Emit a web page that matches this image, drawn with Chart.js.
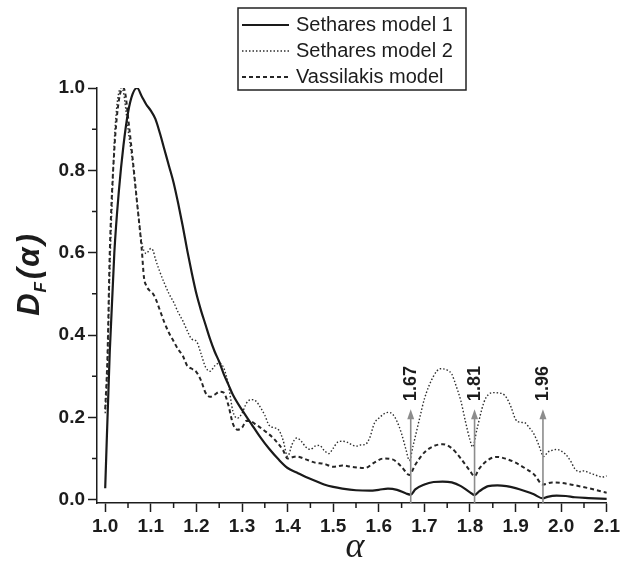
<!DOCTYPE html>
<html>
<head>
<meta charset="utf-8">
<script src="https://cdn.jsdelivr.net/npm/chart.js@4/dist/chart.umd.min.js"></script>
<style>
  html, body { margin: 0; padding: 0; background: #fff; }
  #wrap { width: 623px; height: 567px; }
</style>
</head>
<body>
<div id="wrap"><canvas id="dissonanceChart" width="623" height="567"></canvas></div>
<script>
// tick labels
const xTicks = [1.0, 1.1, 1.2, 1.3, 1.4, 1.5, 1.6, 1.7, 1.8, 1.9, 2.0, 2.1];
const yTicks = [0.0, 0.2, 0.4, 0.6, 0.8, 1.0];

const seriesNames = ["Sethares model 1", "Sethares model 2", "Vassilakis model"];

// Sethares model 1 (solid)
const model1X = [1.0, 1.01, 1.02, 1.03, 1.04, 1.05, 1.06, 1.07, 1.08, 1.09, 1.1, 1.11, 1.12, 1.13, 1.14, 1.15, 1.16, 1.17, 1.18, 1.19, 1.2,
  1.21, 1.22, 1.23, 1.24, 1.25, 1.26, 1.27, 1.28, 1.3, 1.32, 1.34, 1.36, 1.38, 1.4, 1.42, 1.44, 1.46, 1.48, 1.5, 1.52, 1.55, 1.58, 1.6,
  1.62, 1.64, 1.66, 1.67, 1.68, 1.7, 1.72, 1.74, 1.76, 1.78, 1.8, 1.81, 1.82, 1.84, 1.86, 1.88, 1.9, 1.92, 1.94, 1.96, 1.97, 1.99,
  2.01, 2.03, 2.06, 2.1];
const model1Y = [0.028, 0.36, 0.6, 0.75, 0.86, 0.94, 0.985, 1.0, 0.98, 0.96, 0.945, 0.925, 0.89, 0.85, 0.81, 0.77, 0.72, 0.665, 0.605, 0.55, 0.5,
  0.46, 0.425, 0.39, 0.36, 0.335, 0.305, 0.28, 0.255, 0.218, 0.185, 0.152, 0.123, 0.098, 0.077, 0.066, 0.055, 0.046, 0.037, 0.031, 0.027, 0.023, 0.022, 0.024,
  0.027, 0.024, 0.015, 0.012, 0.025, 0.037, 0.043, 0.044, 0.042, 0.033, 0.018, 0.011, 0.02, 0.033, 0.035, 0.033, 0.028, 0.021, 0.013, 0.003, 0.007, 0.01,
  0.009, 0.006, 0.004, 0.002];

// Sethares model 2 (dotted)
const model2X = [1.0, 1.005, 1.01, 1.015, 1.02, 1.025, 1.03, 1.035, 1.04, 1.045, 1.05, 1.055, 1.06, 1.065, 1.07, 1.075, 1.08, 1.09, 1.1, 1.105,
  1.11, 1.12, 1.13, 1.14, 1.15, 1.16, 1.17, 1.18, 1.19, 1.2, 1.21, 1.22, 1.23, 1.24, 1.25, 1.26, 1.27, 1.28, 1.29, 1.3, 1.31, 1.32, 1.33,
  1.34, 1.35, 1.36, 1.38, 1.39, 1.4, 1.41, 1.42, 1.43, 1.44, 1.45, 1.46, 1.47, 1.48, 1.49, 1.5, 1.51, 1.52, 1.53, 1.54, 1.55, 1.56, 1.57,
  1.58, 1.59, 1.6, 1.62, 1.63, 1.64, 1.65, 1.66, 1.667, 1.675, 1.69, 1.7, 1.72, 1.735, 1.75, 1.76, 1.77, 1.78, 1.79, 1.8, 1.806, 1.815,
  1.83, 1.84, 1.85, 1.87, 1.88, 1.89, 1.9, 1.91, 1.92, 1.93, 1.94, 1.95, 1.962, 1.97, 1.98, 1.99, 2.0, 2.01, 2.02, 2.03, 2.04, 2.05,
  2.06, 2.07, 2.08, 2.09, 2.1];
const model2Y = [0.21, 0.32, 0.55, 0.72, 0.87, 0.95, 0.99, 1.0, 0.99, 0.95, 0.9, 0.86, 0.82, 0.77, 0.72, 0.67, 0.625, 0.598, 0.61, 0.605,
  0.585, 0.553, 0.525, 0.5, 0.48, 0.455, 0.435, 0.41, 0.39, 0.385, 0.355, 0.322, 0.312, 0.325, 0.332, 0.32, 0.28, 0.215, 0.198, 0.21, 0.235, 0.243, 0.24,
  0.225, 0.205, 0.18, 0.17, 0.145, 0.105, 0.135, 0.15, 0.142, 0.128, 0.122, 0.13, 0.132, 0.12, 0.112, 0.125, 0.14, 0.142, 0.14, 0.134, 0.13, 0.133, 0.134,
  0.15, 0.185, 0.198, 0.212, 0.208, 0.19, 0.16, 0.12, 0.095, 0.13, 0.2, 0.245, 0.3, 0.318, 0.315, 0.305, 0.275, 0.24, 0.19, 0.145, 0.128, 0.17,
  0.235, 0.255, 0.26, 0.258, 0.248, 0.225, 0.195, 0.188, 0.187, 0.175, 0.16, 0.135, 0.105, 0.115, 0.12, 0.122, 0.118, 0.11, 0.095, 0.075, 0.068, 0.07,
  0.066, 0.062, 0.058, 0.055, 0.058];

// Vassilakis model (dashed)
const model3X = [1.0, 1.005, 1.01, 1.02, 1.03, 1.04, 1.045, 1.05, 1.06, 1.07, 1.08, 1.085, 1.09, 1.1, 1.105, 1.11, 1.12, 1.13, 1.14, 1.15,
  1.16, 1.17, 1.18, 1.19, 1.2, 1.21, 1.22, 1.23, 1.24, 1.25, 1.26, 1.27, 1.28, 1.29, 1.3, 1.31, 1.32, 1.33, 1.35, 1.37, 1.39, 1.4, 1.41,
  1.42, 1.44, 1.46, 1.48, 1.5, 1.52, 1.54, 1.57, 1.59, 1.61, 1.63, 1.65, 1.667, 1.68, 1.7, 1.72, 1.74, 1.76, 1.78, 1.8, 1.81, 1.82, 1.84,
  1.86, 1.88, 1.9, 1.92, 1.94, 1.96, 1.98, 2.0, 2.03, 2.06, 2.1];
const model3Y = [0.22, 0.35, 0.6, 0.85, 0.97, 1.0, 0.98, 0.93, 0.83, 0.72, 0.61, 0.54, 0.52, 0.505, 0.5, 0.49, 0.46, 0.43, 0.405, 0.385,
  0.365, 0.35, 0.325, 0.318, 0.31, 0.29, 0.26, 0.25, 0.255, 0.262, 0.26, 0.23, 0.185, 0.17, 0.175, 0.192, 0.19, 0.183, 0.167, 0.148, 0.12, 0.1, 0.103,
  0.105, 0.098, 0.09, 0.087, 0.08, 0.083, 0.08, 0.077, 0.09, 0.1, 0.098, 0.08, 0.06, 0.085, 0.115, 0.13, 0.135, 0.125, 0.1, 0.07, 0.057, 0.075, 0.097,
  0.104, 0.099, 0.09, 0.077, 0.062, 0.037, 0.042, 0.041, 0.035, 0.028, 0.017];

// marked ratios (arrows)
const markerX = [1.67, 1.81, 1.96];
const markerLabels = ["1.67", "1.81", "1.96"];
const markerTop = 0.22;

const toPoints = (xs, ys) => xs.map((x, i) => ({ x: x, y: ys[i] }));

const tickFont = { family: "Liberation Sans, Arial, sans-serif", weight: "bold", size: 19 };
const ink = "#1c1c1c";

const minorTicks = {
  id: "minorTicks",
  afterDraw(chart) {
    const ctx = chart.ctx;
    const xs = chart.scales.x, ys = chart.scales.y;
    ctx.save();
    ctx.strokeStyle = ink;
    ctx.lineWidth = 1.5;
    ctx.beginPath();
    for (let i = 0; i < xTicks.length - 1; i++) {
      const px = xs.getPixelForValue((xTicks[i] + xTicks[i + 1]) / 2);
      ctx.moveTo(px, xs.top);
      ctx.lineTo(px, xs.top + 5);
    }
    for (let i = 0; i < yTicks.length - 1; i++) {
      const py = ys.getPixelForValue((yTicks[i] + yTicks[i + 1]) / 2);
      ctx.moveTo(ys.right, py);
      ctx.lineTo(ys.right - 5, py);
    }
    ctx.stroke();
    ctx.restore();
  }
};

const arrows = {
  id: "arrows",
  afterDatasetsDraw(chart) {
    const ctx = chart.ctx;
    const xs = chart.scales.x, ys = chart.scales.y;
    ctx.save();
    markerX.forEach((v, i) => {
      const px = xs.getPixelForValue(v);
      const bottom = chart.chartArea.bottom;
      const tip = ys.getPixelForValue(markerTop);
      ctx.strokeStyle = "#8c8c8c";
      ctx.fillStyle = "#8c8c8c";
      ctx.lineWidth = 1.6;
      ctx.beginPath();
      ctx.moveTo(px, bottom);
      ctx.lineTo(px, tip + 8);
      ctx.stroke();
      ctx.beginPath();
      ctx.moveTo(px, tip);
      ctx.lineTo(px - 3.5, tip + 10);
      ctx.lineTo(px + 3.5, tip + 10);
      ctx.closePath();
      ctx.fill();
      ctx.save();
      ctx.translate(px, tip - 8);
      ctx.rotate(-Math.PI / 2);
      ctx.fillStyle = ink;
      ctx.font = "bold 18px 'Liberation Sans', Arial, sans-serif";
      ctx.textAlign = "left";
      ctx.textBaseline = "middle";
      ctx.fillText(markerLabels[i], 0, 0);
      ctx.restore();
    });
    ctx.restore();
  }
};

const titles = {
  id: "titles",
  afterDraw(chart) {
    const ctx = chart.ctx;
    const area = chart.chartArea;
    ctx.save();
    ctx.fillStyle = ink;
    // x title
    ctx.font = "italic 36px 'Liberation Serif', 'DejaVu Serif', serif";
    ctx.textAlign = "center";
    ctx.textBaseline = "alphabetic";
    ctx.fillText("\u03b1", (area.left + area.right) / 2 + 3, 557);
    // y title: D_F(α)
    ctx.translate(30, 275);
    ctx.rotate(-Math.PI / 2);
    const big = "bold italic 31px 'Liberation Sans', Arial, sans-serif";
    const small = "bold italic 17px 'Liberation Sans', Arial, sans-serif";
    const parts = [
      { t: "D", f: big, dy: 0, gap: 0 },
      { t: "F", f: small, dy: 7, gap: 1 },
      { t: "(", f: big, dy: 0, gap: 3 },
      { t: "\u03b1", f: big, dy: 0, gap: 2 },
      { t: ")", f: big, dy: 0, gap: 3 }
    ];
    let total = 0;
    parts.forEach(p => { ctx.font = p.f; p.w = ctx.measureText(p.t).width; total += p.w + p.gap; });
    let cx = -total / 2;
    ctx.textAlign = "left";
    ctx.textBaseline = "middle";
    parts.forEach(p => {
      cx += p.gap;
      ctx.font = p.f;
      ctx.fillText(p.t, cx, p.dy + (p.f === small ? 4 : 0));
      cx += p.w;
    });
    ctx.restore();
  }
};

const boxLegend = {
  id: "boxLegend",
  afterDraw(chart) {
    const ctx = chart.ctx;
    const left = 238, top = 8, width = 228, height = 82;
    ctx.save();
    ctx.strokeStyle = "#222";
    ctx.lineWidth = 1.5;
    ctx.strokeRect(left, top, width, height);
    ctx.font = "20px 'Liberation Sans', Arial, sans-serif";
    ctx.textBaseline = "middle";
    ctx.textAlign = "left";
    chart.data.datasets.forEach((ds, i) => {
      const y = top + 17 + i * 26;
      ctx.save();
      ctx.strokeStyle = ds.borderColor;
      ctx.lineWidth = ds.borderWidth;
      ctx.setLineDash(ds.borderDash || []);
      ctx.beginPath();
      ctx.moveTo(left + 4, y);
      ctx.lineTo(left + 51, y);
      ctx.stroke();
      ctx.restore();
      ctx.fillStyle = ink;
      ctx.fillText(ds.label, left + 58, y);
    });
    ctx.restore();
  }
};

const whiteBg = {
  id: "whiteBg",
  beforeDraw(chart) {
    const ctx = chart.ctx;
    ctx.save();
    ctx.fillStyle = "#fff";
    ctx.fillRect(0, 0, chart.width, chart.height);
    ctx.restore();
  }
};

const ctx = document.getElementById("dissonanceChart").getContext("2d");

new Chart(ctx, {
  type: "line",
  data: {
    datasets: [
      {
        label: seriesNames[0],
        data: toPoints(model1X, model1Y),
        borderColor: "#1a1a1a",
        borderWidth: 2.2,
        borderDash: [],
      },
      {
        label: seriesNames[1],
        data: toPoints(model2X, model2Y),
        borderColor: "#2e2e2e",
        borderWidth: 1.4,
        borderDash: [1.5, 2],
      },
      {
        label: seriesNames[2],
        data: toPoints(model3X, model3Y),
        borderColor: "#262626",
        borderWidth: 2,
        borderDash: [4, 3],
      },
    ],
  },
  options: {
    responsive: false,
    animation: false,
    devicePixelRatio: 1,
    layout: { padding: { top: 88, right: 12, left: 0, bottom: 0 } },
    elements: {
      point: { radius: 0, hoverRadius: 0 },
      line: { fill: false, cubicInterpolationMode: "monotone" },
    },
    plugins: {
      legend: { display: false },
      tooltip: { enabled: false },
    },
    scales: {
      x: {
        type: "linear",
        min: 0.982,
        max: 2.1,
        afterBuildTicks: (s) => { s.ticks = xTicks.map((v) => ({ value: v })); },
        afterFit: (s) => { s.height = 64; },
        ticks: {
          callback: (v) => Number(v).toFixed(1),
          font: tickFont,
          color: ink,
          padding: 3,
          maxRotation: 0,
          autoSkip: false,
        },
        grid: { drawOnChartArea: false, drawTicks: true, tickLength: 9, tickColor: ink, tickWidth: 1.5 },
        border: { display: true, color: ink, width: 1.5 },
      },
      y: {
        type: "linear",
        min: -0.008,
        max: 1.0,
        afterBuildTicks: (s) => { s.ticks = yTicks.map((v) => ({ value: v })); },
        afterFit: (s) => { s.width = 97; },
        ticks: {
          callback: (v) => Number(v).toFixed(1),
          font: tickFont,
          color: ink,
          padding: 3,
        },
        grid: { drawOnChartArea: false, drawTicks: true, tickLength: 9, tickColor: ink, tickWidth: 1.5 },
        border: { display: true, color: ink, width: 1.5 },
      },
    },
  },
  plugins: [whiteBg, minorTicks, arrows, titles, boxLegend],
});
</script>
</body>
</html>
